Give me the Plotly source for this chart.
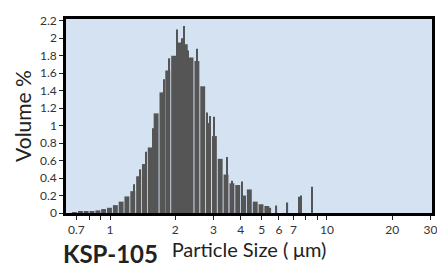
import numpy as np
import plotly.graph_objects as go

# Particle size bins (µm) and volume %
sizes = [0.685, 0.730, 0.776, 0.826, 0.879, 0.934, 0.994, 1.058, 1.125, 1.196,
         1.273, 1.354, 1.440, 1.532, 1.631, 1.735, 1.845, 1.964, 2.089, 2.222,
         2.362, 2.514, 2.674, 2.844, 3.027, 3.219, 3.424, 3.646, 3.877, 4.124,
         4.385, 4.669, 4.965, 5.280]
volume = [0.005, 0.012, 0.02, 0.02, 0.03, 0.045, 0.06, 0.09, 0.13, 0.19,
          0.25, 0.42, 0.56, 0.75, 1.14, 1.38, 1.63, 1.80, 1.95, 1.93,
          1.78, 1.74, 1.45, 1.03, 0.88, 0.62, 0.44, 0.34, 0.32, 0.20,
          0.27, 0.13, 0.10, 0.08]

# Narrow spikes (µm) and volume %
spike_sizes = [1.290, 1.382, 1.465, 1.586, 1.773, 1.880, 2.030, 2.154, 2.193, 2.288,
               2.509, 2.799, 2.888, 3.024, 3.450, 3.638, 4.045, 5.490, 5.852, 6.577,
               7.430, 7.590, 8.530]
spike_volume = [0.33, 0.50, 0.70, 0.97, 1.53, 1.77, 2.10, 2.00, 2.14, 1.86,
                1.88, 1.15, 1.11, 1.10, 0.64, 0.37, 0.36, 0.06, 0.085, 0.12,
                0.185, 0.20, 0.30]

tick_values = [0.7, 0.8, 0.9, 1, 2, 3, 4, 5, 6, 7, 8, 9, 10, 20, 30]
tick_labels = ["0.7", "", "", "1", "2", "3", "4", "5", "6", "7", "", "", "10", "20", "30"]

BAR = "#555555"
fig = go.Figure()
fig.add_trace(go.Bar(x=np.log10(sizes), y=volume, width=0.0226,
                     marker=dict(color=BAR, line=dict(width=0)), hoverinfo="skip"))
fig.add_trace(go.Bar(x=np.log10(spike_sizes), y=spike_volume, width=0.0055,
                     marker=dict(color=BAR, line=dict(width=0)), hoverinfo="skip"))

font_family = "Lato, 'Open Sans', sans-serif"
fig.update_layout(
    width=437, height=263,
    margin=dict(l=58, r=13, t=5, b=58),
    paper_bgcolor="white",
    plot_bgcolor="#d4e2f2",
    barmode="overlay",
    showlegend=False,
    font=dict(family=font_family, color="#222222"),
    xaxis=dict(
        range=[-0.203, 1.484],
        tickvals=np.log10(tick_values), ticktext=tick_labels,
        ticks="outside", ticklen=4, tickwidth=1, tickcolor="#222",
        tickfont=dict(size=12, color="#333"),
        showgrid=False, zeroline=False,
        showline=True, linecolor="black", linewidth=2.5, mirror=True,
        title=dict(text="Particle Size (<i> </i>μm)", font=dict(size=20, color="#222"), standoff=0),
    ),
    yaxis=dict(
        range=[0, 2.22],
        tickvals=[0, 0.2, 0.4, 0.6, 0.8, 1, 1.2, 1.4, 1.6, 1.8, 2, 2.2],
        ticks="outside", ticklen=4, tickwidth=1, tickcolor="#222",
        tickfont=dict(size=12, color="#333"),
        showgrid=False, zeroline=False,
        showline=True, linecolor="black", linewidth=2.5, mirror=True,
        title=dict(text="Volume %", font=dict(size=21, color="#222"), standoff=3),
    ),
    annotations=[dict(text="<b>KSP-105</b>", xref="paper", yref="paper",
                      x=-0.01, y=0.0 - 58 / 200, xanchor="left", yanchor="bottom",
                      showarrow=False, borderpad=0,
                      font=dict(size=24, color="#222", family=font_family))],
)

fig.write_html("out.html")
